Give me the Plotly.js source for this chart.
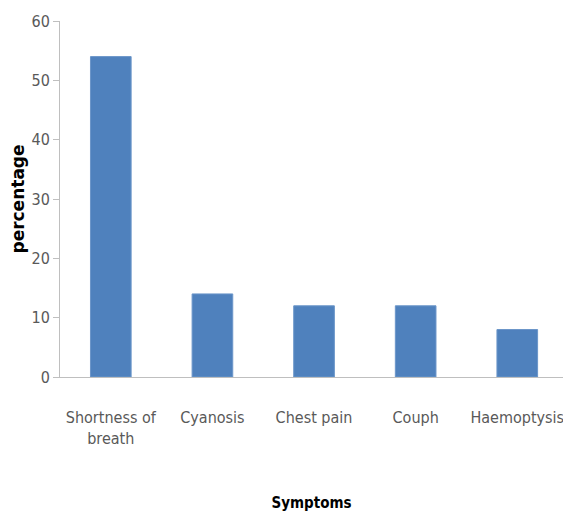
<!DOCTYPE html>
<html><head><meta charset="utf-8">
<script src="https://cdn.plot.ly/plotly-3.0.1.min.js"></script>
<style>body{margin:0;background:#fff}#c{width:563px;height:518px}</style>
</head><body><div id="c"></div>
<script>
const categories = ["Shortness of<br>breath", "Cyanosis", "Chest pain", "Couph", "Haemoptysis"];
const percentages = [54, 14, 12, 12, 8];
const yTicks = [0, 10, 20, 30, 40, 50, 60];

const narrow = "DejaVu Sans Condensed, Liberation Sans Narrow, sans-serif";
const tickFont = {family: narrow, size: 16, color: "#595959"};

Plotly.newPlot("c", [{
  type: "bar",
  x: categories,
  y: percentages,
  marker: {color: "#4f81bd", line: {color: "#6b96c9", width: 1}},
  width: 0.4,
  hoverinfo: "x+y"
}], {
  width: 563, height: 518,
  margin: {l: 60, r: 0, t: 21, b: 141},
  paper_bgcolor: "#fff", plot_bgcolor: "#fff",
  showlegend: false,
  xaxis: {
    type: "category",
    range: [-0.5, 4.45],
    showline: true, linecolor: "#bfbfbf", linewidth: 1,
    ticks: "", showgrid: false, zeroline: false,
    tickfont: tickFont,
    ticklabelstandoff: 26,
    title: {text: "<b>Symptoms</b>", font: {family: narrow, size: 15, color: "#000"}, standoff: 50}
  },
  yaxis: {
    range: [0, 60],
    tickvals: yTicks,
    showline: true, linecolor: "#bfbfbf", linewidth: 1,
    ticks: "outside", ticklen: 6, tickcolor: "#bfbfbf",
    showgrid: false, zeroline: false,
    tickfont: tickFont,
    title: {text: "<b>percentage</b>", font: {family: "DejaVu Sans, sans-serif", size: 17, color: "#000"}, standoff: 2}
  }
}, {displayModeBar: false, staticPlot: true});
</script>
</body></html>
